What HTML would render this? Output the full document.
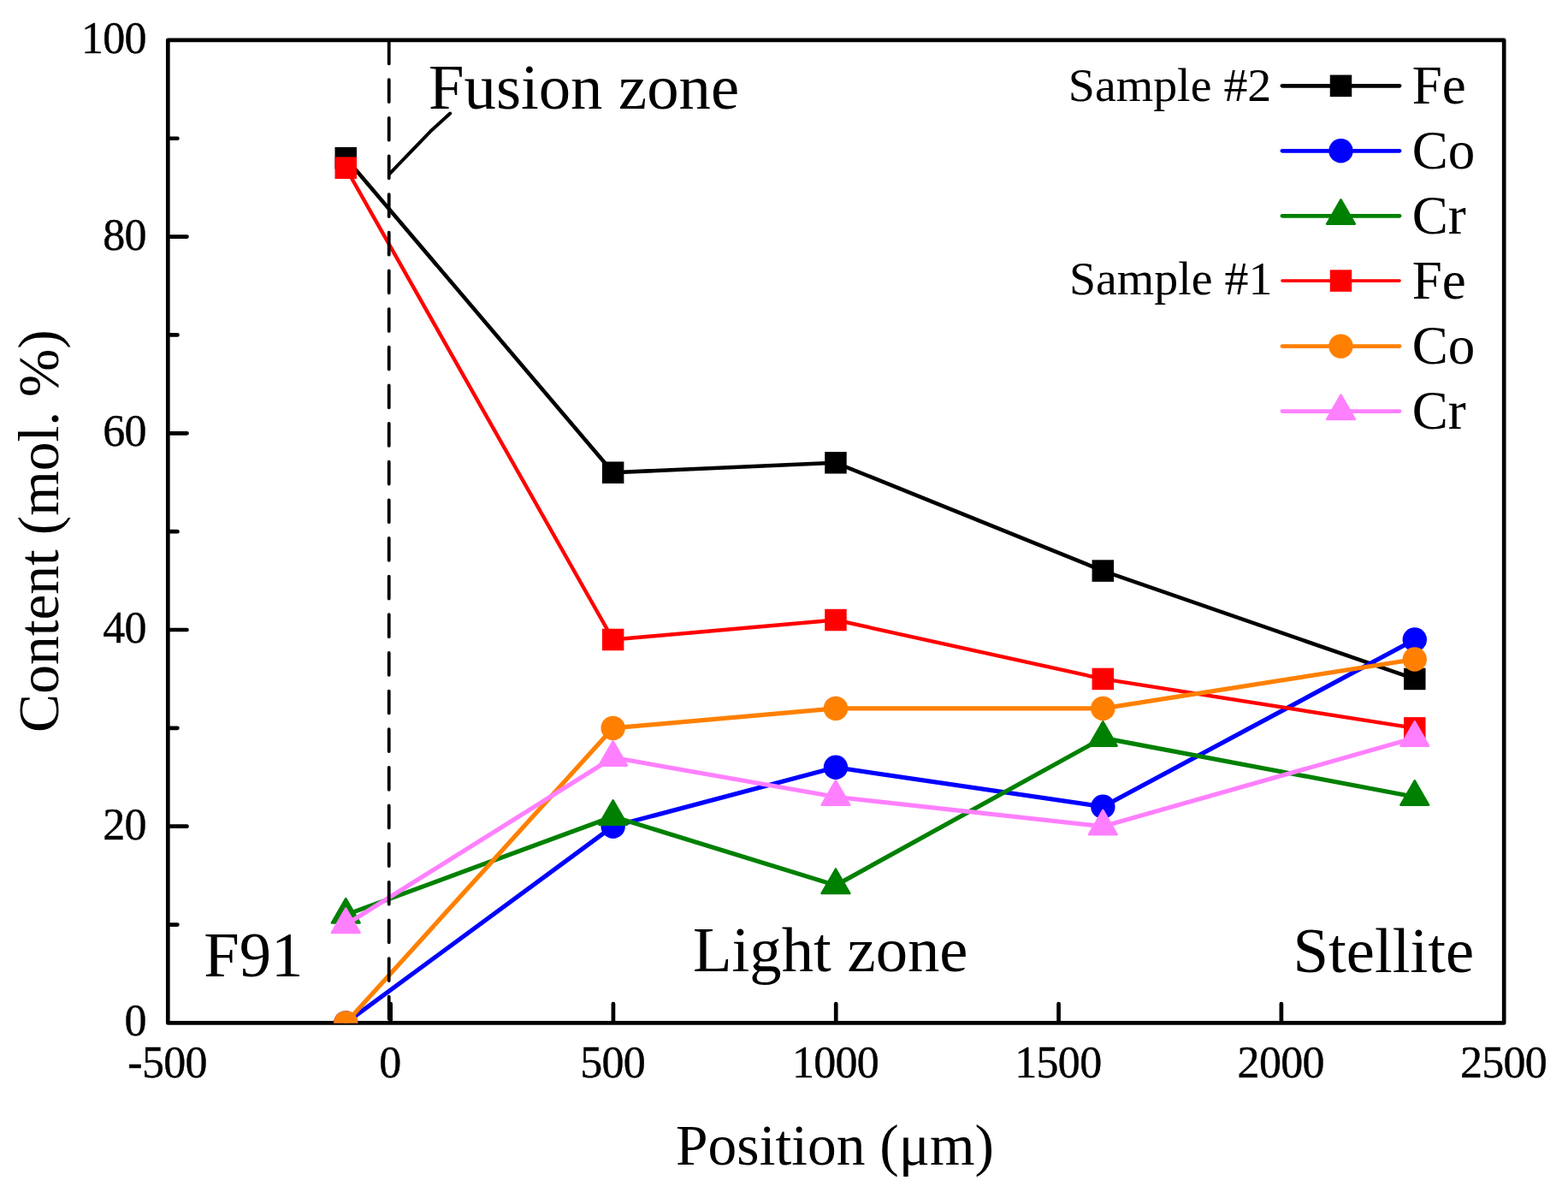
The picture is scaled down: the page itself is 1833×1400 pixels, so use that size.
<!DOCTYPE html>
<html lang="en"><head><meta charset="utf-8"><title>Content vs Position</title>
<style>html,body{margin:0;padding:0;background:#fff;}body{width:1833px;height:1400px;overflow:hidden;}svg{display:block;}text{font-family:'Liberation Serif', serif;fill:#000;}</style></head><body>
<svg width="1833" height="1400" viewBox="0 0 1833 1400">
<rect width="1833" height="1400" fill="#fff"/>
<defs><clipPath id="plot"><rect x="196.3" y="46.9" width="1561.90" height="1148.90"/></clipPath></defs>
<g fill="none" stroke="#000" stroke-width="4.7" stroke-linecap="round" stroke-linejoin="round">
<rect x="196.3" y="46.9" width="1561.90" height="1148.50"/>
<line x1="456.62" y1="1194.40" x2="456.62" y2="1173.20"/>
<line x1="716.93" y1="1194.40" x2="716.93" y2="1173.20"/>
<line x1="977.25" y1="1194.40" x2="977.25" y2="1173.20"/>
<line x1="1237.57" y1="1194.40" x2="1237.57" y2="1173.20"/>
<line x1="1497.88" y1="1194.40" x2="1497.88" y2="1173.20"/>
<line x1="197.30" y1="965.70" x2="218.50" y2="965.70"/>
<line x1="197.30" y1="736.00" x2="218.50" y2="736.00"/>
<line x1="197.30" y1="506.30" x2="218.50" y2="506.30"/>
<line x1="197.30" y1="276.60" x2="218.50" y2="276.60"/>
<line x1="197.30" y1="1080.55" x2="207.40" y2="1080.55"/>
<line x1="197.30" y1="850.85" x2="207.40" y2="850.85"/>
<line x1="197.30" y1="621.15" x2="207.40" y2="621.15"/>
<line x1="197.30" y1="391.45" x2="207.40" y2="391.45"/>
<line x1="197.30" y1="161.75" x2="207.40" y2="161.75"/>
</g>
<g clip-path="url(#plot)">
<polyline points="404.25,184.72 716.63,552.24 976.95,540.76 1289.33,667.09 1653.77,793.43" fill="none" stroke="#000000" stroke-width="4.6" stroke-linejoin="round" stroke-linecap="round"/>
<rect x="391.50" y="171.97" width="25.5" height="25.5" fill="#000000"/>
<rect x="703.88" y="539.49" width="25.5" height="25.5" fill="#000000"/>
<rect x="964.20" y="528.01" width="25.5" height="25.5" fill="#000000"/>
<rect x="1276.58" y="654.34" width="25.5" height="25.5" fill="#000000"/>
<rect x="1641.02" y="780.68" width="25.5" height="25.5" fill="#000000"/>
<polyline points="404.25,1195.40 716.63,965.70 976.95,896.79 1289.33,942.73 1653.77,747.49" fill="none" stroke="#0000ff" stroke-width="5.2" stroke-linejoin="round" stroke-linecap="round"/>
<circle cx="404.25" cy="1195.40" r="14.2" fill="#0000ff"/>
<circle cx="716.63" cy="965.70" r="14.2" fill="#0000ff"/>
<circle cx="976.95" cy="896.79" r="14.2" fill="#0000ff"/>
<circle cx="1289.33" cy="942.73" r="14.2" fill="#0000ff"/>
<circle cx="1653.77" cy="747.49" r="14.2" fill="#0000ff"/>
<polyline points="404.25,1069.07 716.63,954.22 976.95,1034.61 1289.33,862.34 1653.77,931.25" fill="none" stroke="#008000" stroke-width="5.2" stroke-linejoin="round" stroke-linecap="round"/>
<polygon points="404.25,1050.16 420.55,1078.47 387.95,1078.47" fill="#008000" stroke="#008000" stroke-width="2.6" stroke-linejoin="round"/>
<polygon points="716.63,935.32 732.93,963.62 700.33,963.62" fill="#008000" stroke="#008000" stroke-width="2.6" stroke-linejoin="round"/>
<polygon points="976.95,1015.71 993.25,1044.01 960.65,1044.01" fill="#008000" stroke="#008000" stroke-width="2.6" stroke-linejoin="round"/>
<polygon points="1289.33,843.44 1305.63,871.74 1273.03,871.74" fill="#008000" stroke="#008000" stroke-width="2.6" stroke-linejoin="round"/>
<polygon points="1653.77,912.35 1670.07,940.65 1637.47,940.65" fill="#008000" stroke="#008000" stroke-width="2.6" stroke-linejoin="round"/>
<polyline points="404.25,196.21 716.63,747.49 976.95,724.52 1289.33,793.43 1653.77,850.85" fill="none" stroke="#ff0000" stroke-width="4.4" stroke-linejoin="round" stroke-linecap="round"/>
<rect x="391.50" y="183.46" width="25.5" height="25.5" fill="#ff0000"/>
<rect x="703.88" y="734.74" width="25.5" height="25.5" fill="#ff0000"/>
<rect x="964.20" y="711.77" width="25.5" height="25.5" fill="#ff0000"/>
<rect x="1276.58" y="780.68" width="25.5" height="25.5" fill="#ff0000"/>
<rect x="1641.02" y="838.10" width="25.5" height="25.5" fill="#ff0000"/>
<polyline points="404.25,1195.40 716.63,850.85 976.95,827.88 1289.33,827.88 1653.77,770.46" fill="none" stroke="#ff8000" stroke-width="5.2" stroke-linejoin="round" stroke-linecap="round"/>
<circle cx="404.25" cy="1195.40" r="14.2" fill="#ff8000"/>
<circle cx="716.63" cy="850.85" r="14.2" fill="#ff8000"/>
<circle cx="976.95" cy="827.88" r="14.2" fill="#ff8000"/>
<circle cx="1289.33" cy="827.88" r="14.2" fill="#ff8000"/>
<circle cx="1653.77" cy="770.46" r="14.2" fill="#ff8000"/>
<polyline points="404.25,1080.55 716.63,885.31 976.95,931.25 1289.33,965.70 1653.77,862.34" fill="none" stroke="#ff80ff" stroke-width="5.2" stroke-linejoin="round" stroke-linecap="round"/>
<polygon points="404.25,1061.65 420.55,1089.95 387.95,1089.95" fill="#ff80ff" stroke="#ff80ff" stroke-width="2.6" stroke-linejoin="round"/>
<polygon points="716.63,866.41 732.93,894.71 700.33,894.71" fill="#ff80ff" stroke="#ff80ff" stroke-width="2.6" stroke-linejoin="round"/>
<polygon points="976.95,912.35 993.25,940.65 960.65,940.65" fill="#ff80ff" stroke="#ff80ff" stroke-width="2.6" stroke-linejoin="round"/>
<polygon points="1289.33,946.80 1305.63,975.10 1273.03,975.10" fill="#ff80ff" stroke="#ff80ff" stroke-width="2.6" stroke-linejoin="round"/>
<polygon points="1653.77,843.44 1670.07,871.74 1637.47,871.74" fill="#ff80ff" stroke="#ff80ff" stroke-width="2.6" stroke-linejoin="round"/>
</g>
<line x1="454.7" y1="48.5" x2="454.7" y2="1193" stroke="#000" stroke-width="3.8" stroke-linecap="round" stroke-dasharray="25.9 18.75"/>
<polyline points="455.6,202.8 504.6,152.2 526.2,132.5" fill="none" stroke="#000" stroke-width="4" stroke-linecap="round" stroke-linejoin="round"/>
<text x="195.60" y="1259.2" font-size="52" letter-spacing="-0.7" stroke="#000" stroke-width="0.4" text-anchor="middle">-500</text>
<text x="455.92" y="1259.2" font-size="52" letter-spacing="-0.7" stroke="#000" stroke-width="0.4" text-anchor="middle">0</text>
<text x="716.23" y="1259.2" font-size="52" letter-spacing="-0.7" stroke="#000" stroke-width="0.4" text-anchor="middle">500</text>
<text x="976.55" y="1259.2" font-size="52" letter-spacing="-0.7" stroke="#000" stroke-width="0.4" text-anchor="middle">1000</text>
<text x="1236.87" y="1259.2" font-size="52" letter-spacing="-0.7" stroke="#000" stroke-width="0.4" text-anchor="middle">1500</text>
<text x="1497.18" y="1259.2" font-size="52" letter-spacing="-0.7" stroke="#000" stroke-width="0.4" text-anchor="middle">2000</text>
<text x="1757.50" y="1259.2" font-size="52" letter-spacing="-0.7" stroke="#000" stroke-width="0.4" text-anchor="middle">2500</text>
<text x="170.90" y="1210.30" font-size="52" letter-spacing="-0.7" stroke="#000" stroke-width="0.4" text-anchor="end">0</text>
<text x="170.90" y="980.60" font-size="52" letter-spacing="-0.7" stroke="#000" stroke-width="0.4" text-anchor="end">20</text>
<text x="170.90" y="750.90" font-size="52" letter-spacing="-0.7" stroke="#000" stroke-width="0.4" text-anchor="end">40</text>
<text x="170.90" y="521.20" font-size="52" letter-spacing="-0.7" stroke="#000" stroke-width="0.4" text-anchor="end">60</text>
<text x="170.90" y="291.50" font-size="52" letter-spacing="-0.7" stroke="#000" stroke-width="0.4" text-anchor="end">80</text>
<text x="170.90" y="61.80" font-size="52" letter-spacing="-0.7" stroke="#000" stroke-width="0.4" text-anchor="end">100</text>
<text x="976" y="1361" font-size="67.5" text-anchor="middle">Position (μm)</text>
<text transform="translate(67.8 620.6) rotate(-90)" font-size="67.5" text-anchor="middle">Content (mol. %)</text>
<text x="501" y="126.8" font-size="74.7">Fusion zone</text>
<text x="238.2" y="1140.6" font-size="74.7">F91</text>
<text x="810" y="1135" font-size="74.7">Light zone</text>
<text x="1511.5" y="1136" font-size="74.7">Stellite</text>
<line x1="1499" y1="100.3" x2="1636" y2="100.3" stroke="#000000" stroke-width="4.8" stroke-linecap="round"/>
<rect x="1554.75" y="87.55" width="25.5" height="25.5" fill="#000000"/>
<text x="1650.8" y="121.3" font-size="63">Fe</text>
<line x1="1499" y1="176.3" x2="1636" y2="176.3" stroke="#0000ff" stroke-width="4.8" stroke-linecap="round"/>
<circle cx="1567.50" cy="176.30" r="14.2" fill="#0000ff"/>
<text x="1650.8" y="196.6" font-size="63">Co</text>
<line x1="1499" y1="252.3" x2="1636" y2="252.3" stroke="#008000" stroke-width="4.8" stroke-linecap="round"/>
<polygon points="1567.50,233.40 1583.80,261.70 1551.20,261.70" fill="#008000" stroke="#008000" stroke-width="2.6" stroke-linejoin="round"/>
<text x="1650.8" y="273.1" font-size="63">Cr</text>
<line x1="1499" y1="328.1" x2="1636" y2="328.1" stroke="#ff0000" stroke-width="3.6" stroke-linecap="round"/>
<rect x="1554.75" y="315.35" width="25.5" height="25.5" fill="#ff0000"/>
<text x="1650.8" y="348.9" font-size="63">Fe</text>
<line x1="1499" y1="404.6" x2="1636" y2="404.6" stroke="#ff8000" stroke-width="4.8" stroke-linecap="round"/>
<circle cx="1567.50" cy="404.60" r="14.2" fill="#ff8000"/>
<text x="1650.8" y="424.8" font-size="63">Co</text>
<line x1="1499" y1="480.6" x2="1636" y2="480.6" stroke="#ff80ff" stroke-width="4.8" stroke-linecap="round"/>
<polygon points="1567.50,461.70 1583.80,490.00 1551.20,490.00" fill="#ff80ff" stroke="#ff80ff" stroke-width="2.6" stroke-linejoin="round"/>
<text x="1650.8" y="500.9" font-size="63">Cr</text>
<text x="1248.8" y="117.9" font-size="55.9">Sample #2</text>
<text x="1249.9" y="343.8" font-size="55.9">Sample #1</text>
</svg></body></html>
